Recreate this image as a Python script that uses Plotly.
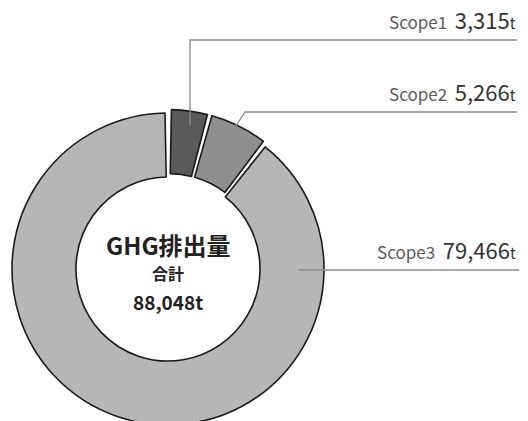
import plotly.graph_objects as go

# ---- data ----
labels = ["Scope1", "Scope2", "Scope3"]
values = [3315, 5266, 79466]
value_text = ["3,315", "5,266", "79,466"]
center_title = "GHG排出量"
center_sub = "合計"
total_text = "88,048t"

# ---- style ----
colors = ["#5a5a5a", "#8f8f8f", "#b6b6b6"]
gap_deg = [1.3, 1.5, 2.2]          # white gap after each slice (degrees)
pull_by = [0.022, 0.022, 0.0]
W, H = 528, 440
FONT = "Noto Sans CJK JP"

def px(x):
    return x / W

def py(y):
    return 1 - y / H

total = sum(values)
unit = total / (360 - sum(gap_deg))
vals, cols, lws, pulls = [], [], [], []
for v, c, g, p in zip(values, colors, gap_deg, pull_by):
    vals += [v, g * unit]
    cols += [c, "rgba(0,0,0,0)"]
    lws += [1.6, 0]
    pulls += [p, 0]

cx, cy, R = 168, 269, 156
maxp = max(pull_by)
half = R * (1 + maxp)

fig = go.Figure(go.Pie(
    values=vals, sort=False, direction="clockwise", rotation=gap_deg[-1] / 2,
    hole=0.59, pull=pulls,
    marker=dict(colors=cols, line=dict(color="#1a1a1a", width=lws)),
    textinfo="none", hoverinfo="skip", showlegend=False,
    domain=dict(x=[px(cx - half), px(cx + half)], y=[py(cy + half), py(cy - half)]),
))

# leader lines
paths = [
    [(190, 125), (190, 40), (517, 40)],
    [(226, 141), (245, 112), (517, 112)],
    [(298, 270), (519, 270)],
]
shapes = []
for pts in paths:
    d = "M " + " L ".join(f"{px(x)},{py(y)}" for x, y in pts)
    shapes.append(dict(type="path", path=d, xref="paper", yref="paper",
                       line=dict(color="#8c8c8c", width=1.3)))

label_y = [40, 112, 270]
annotations = []
for lab, vt, ly in zip(labels, value_text, label_y):
    annotations.append(dict(
        x=px(518), y=py(ly - 3), xref="paper", yref="paper",
        xanchor="right", yanchor="bottom", showarrow=False,
        text=(f"<span style='font-size:17px;color:#5a5a5a'>{lab}</span>"
              f"<span style='font-size:17px'>  </span>"
              f"<span style='font-size:22px;color:#333333'>{vt}</span>"
              f"<span style='font-size:15px;color:#333333'>t</span>"),
        font=dict(family=FONT, color="#333333"),
    ))

annotations += [
    dict(x=px(cx), y=py(244), xref="paper", yref="paper", showarrow=False,
         xanchor="center", yanchor="middle", text=f"<b>{center_title}</b>",
         font=dict(family=FONT, size=24, color="#222222")),
    dict(x=px(cx), y=py(287), xref="paper", yref="paper", showarrow=False,
         xanchor="center", yanchor="bottom", text=f"<b>{center_sub}</b>",
         font=dict(family=FONT, size=16, color="#222222")),
    dict(x=px(cx), y=py(286), xref="paper", yref="paper", showarrow=False,
         xanchor="center", yanchor="top", text=f"<b>{total_text}</b>",
         font=dict(family=FONT, size=19, color="#222222")),
]

fig.update_layout(
    width=W, height=H, margin=dict(l=0, r=0, t=0, b=0),
    paper_bgcolor="white", plot_bgcolor="white",
    shapes=shapes, annotations=annotations,
)

fig.write_html(
    "out.html",
    config=dict(displayModeBar=False, staticPlot=True),
    post_script=("document.body.style.margin='0';"
                 "document.body.style.overflow='hidden';"
                 "document.documentElement.style.overflow='hidden';"),
)
